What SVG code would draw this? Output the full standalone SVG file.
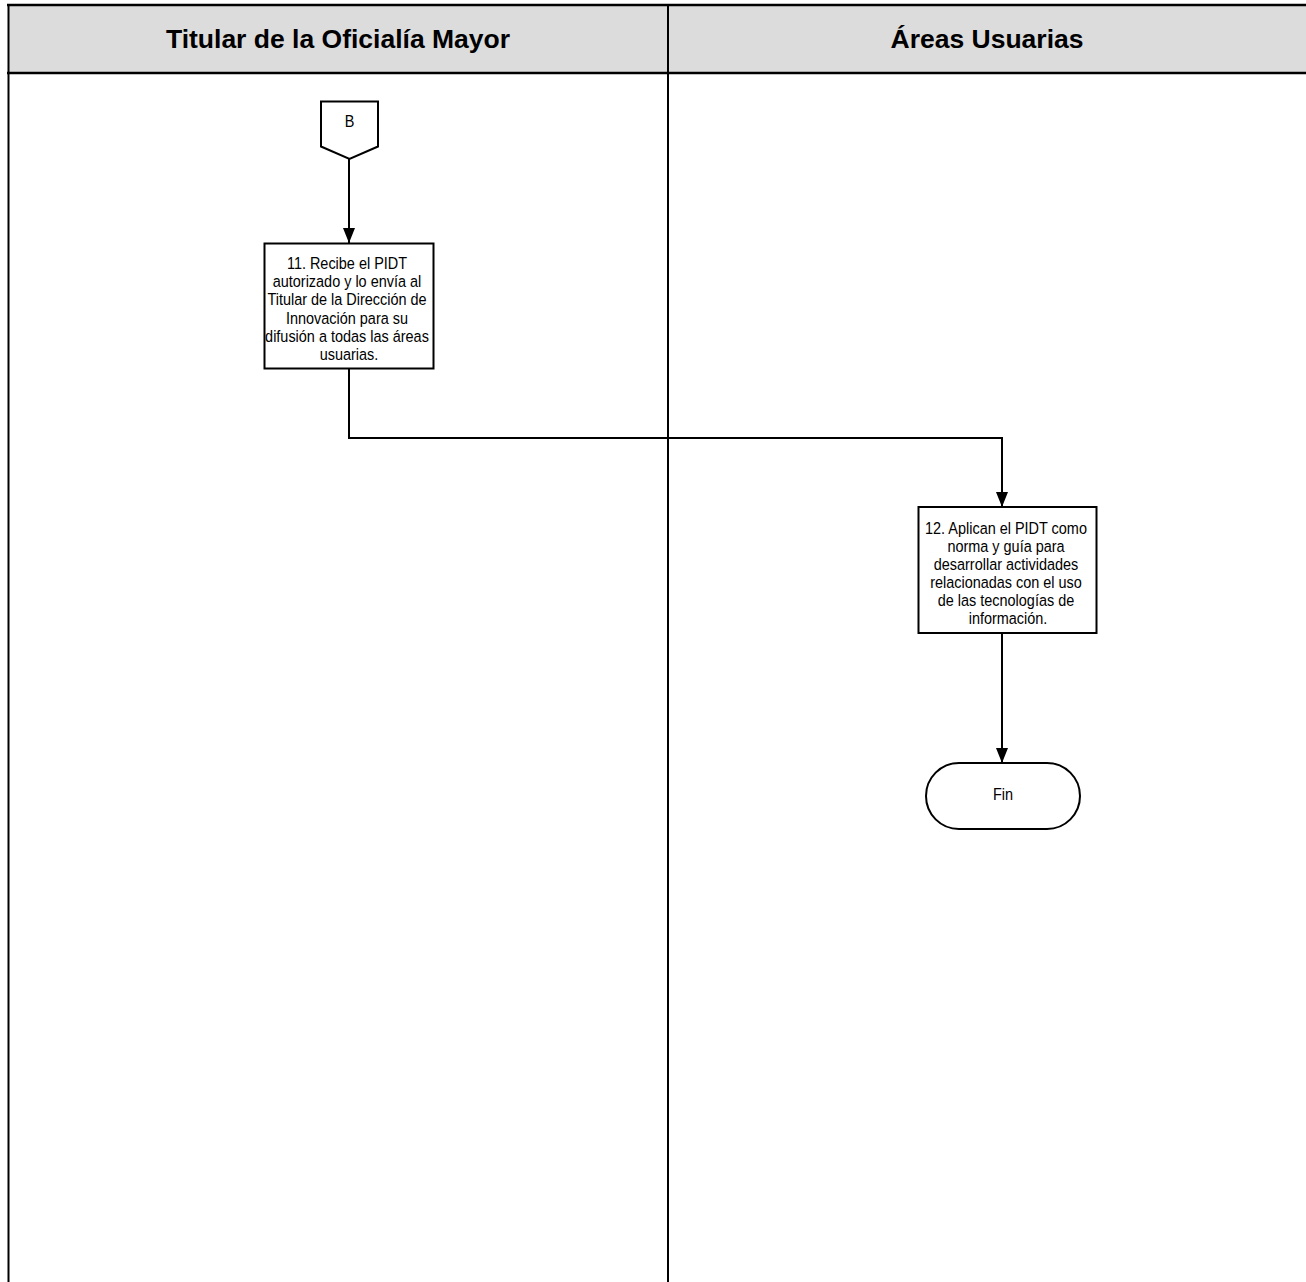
<svg xmlns="http://www.w3.org/2000/svg" width="1306" height="1282" viewBox="0 0 1306 1282">
  <defs>
    <marker id="arrow" markerWidth="15" markerHeight="12" refX="15" refY="6" orient="auto" markerUnits="userSpaceOnUse" viewBox="0 0 15 12">
      <path d="M0,0 L15,6 L0,12 Z" fill="#000"/>
    </marker>
    <style>
      .lane-title { font-family: "Liberation Sans", Arial, sans-serif; font-weight: bold; font-size: 26.5px; fill: #000; text-anchor: middle; }
      .node-text { font-family: "Liberation Sans", Arial, sans-serif; font-size: 17px; fill: #000; text-anchor: middle; }
      .shape { fill: #fff; stroke: #000; stroke-width: 2; }
      .edge { fill: none; stroke: #000; stroke-width: 2; marker-end: url(#arrow); }
      .frame { stroke: #000; fill: none; }
    </style>
  </defs>

  <rect width="1306" height="1282" fill="#fff"/>

  <!-- swimlane frame -->
  <g id="lanes">
    <rect x="8.5" y="5" width="1300" height="68" fill="#dcdcdc"/>
    <line class="frame" x1="7" y1="5" x2="1306" y2="5" stroke-width="2.5"/>
    <line class="frame" x1="7" y1="73" x2="1306" y2="73" stroke-width="2.5"/>
    <line class="frame" x1="8.5" y1="4" x2="8.5" y2="1282" stroke-width="2"/>
    <line class="frame" x1="668" y1="4" x2="668" y2="1282" stroke-width="2"/>
    <text class="lane-title" x="338" y="48">Titular de la Oficialía Mayor</text>
    <text class="lane-title" x="987" y="48">Áreas Usuarias</text>
  </g>

  <!-- connectors -->
  <g id="connectors">
    <path class="edge" d="M349,159 V243"/>
    <path class="edge" d="M349,369 V438 H1002 V507"/>
    <path class="edge" d="M1002,633 V763"/>
  </g>

  <!-- off-page connector B -->
  <g id="node-B">
    <path class="shape" d="M321,101.5 H378 V146.5 L349.5,159 L321,146.5 Z"/>
    <text class="node-text" transform="translate(349.5,127) scale(0.85,1)" x="0" y="0">B</text>
  </g>

  <!-- step 11 -->
  <g id="node-11">
    <rect class="shape" x="264.5" y="243.5" width="169" height="125"/>
    <text class="node-text" transform="translate(349,269) scale(0.85,1)" x="0" y="0">
      <tspan x="0" dy="0">11. Recibe el PIDT</tspan>
      <tspan x="0" dy="18.2">autorizado y lo envía al</tspan>
      <tspan x="0" dy="18.2">Titular de la Dirección de</tspan>
      <tspan x="0" dy="18.2">Innovación para su</tspan>
      <tspan x="0" dy="18.2">difusión a todas las áreas</tspan>
      <tspan x="0" dy="18.2">usuarias.</tspan>
    </text>
  </g>

  <!-- step 12 -->
  <g id="node-12">
    <rect class="shape" x="918.5" y="507" width="178" height="126"/>
    <text class="node-text" transform="translate(1008,534) scale(0.85,1)" x="0" y="0">
      <tspan x="0" dy="0">12. Aplican el PIDT como</tspan>
      <tspan x="0" dy="18">norma y guía para</tspan>
      <tspan x="0" dy="18">desarrollar actividades</tspan>
      <tspan x="0" dy="18">relacionadas con el uso</tspan>
      <tspan x="0" dy="18">de las tecnologías de</tspan>
      <tspan x="0" dy="18">información.</tspan>
    </text>
  </g>

  <!-- terminator -->
  <g id="node-fin">
    <rect class="shape" x="926" y="763" width="154" height="66" rx="33" ry="33"/>
    <text class="node-text" transform="translate(1003,800) scale(0.85,1)" x="0" y="0">Fin</text>
  </g>
</svg>
